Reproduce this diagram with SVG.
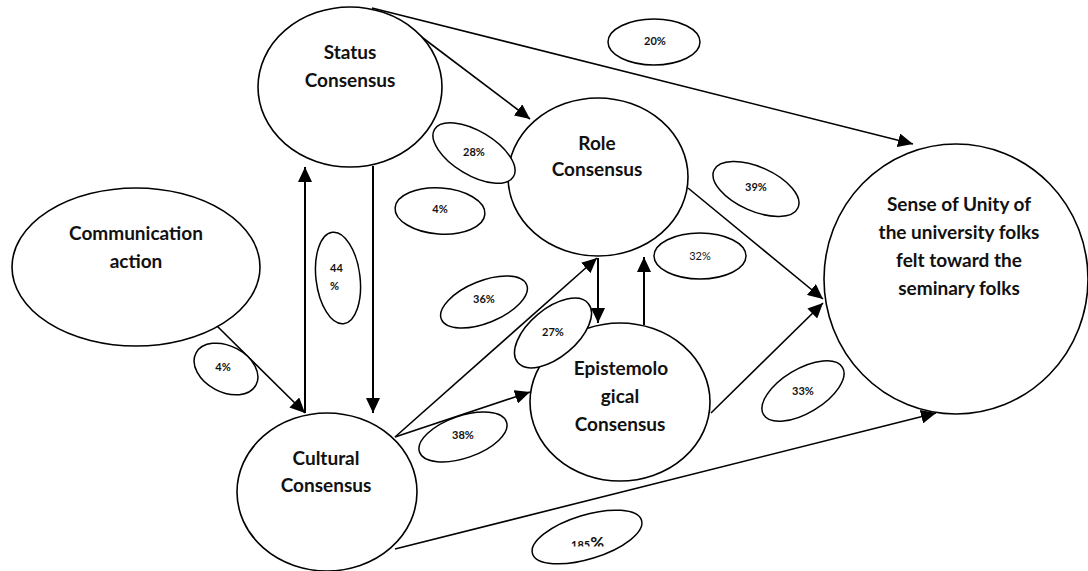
<svg xmlns="http://www.w3.org/2000/svg" width="1088" height="571" viewBox="0 0 1088 571">
<style>
.node{fill:#fff;stroke:#000;stroke-width:1.6}
.lab{fill:#fff;stroke:#000;stroke-width:1.5}
.t{font-family:Lato,"Liberation Sans",sans-serif;font-weight:bold;font-size:19px;fill:#111;text-anchor:middle}
.p{font-family:Lato,"Liberation Sans",sans-serif;font-weight:bold;font-size:11px;fill:#111;text-anchor:middle}
.c{stroke:#000;stroke-width:1.6;fill:none;marker-end:url(#ah)}
</style>
<defs>
<marker id="ah" markerUnits="userSpaceOnUse" markerWidth="16" markerHeight="14" refX="15" refY="7" orient="auto">
<path d="M0,0 L15,7 L0,14 Z" fill="#000"/>
</marker>
<clipPath id="clip185"><rect x="540" y="520" width="100" height="26.5"/></clipPath>
</defs>
<g id="connectors">
<line class="c" x1="372" y1="8" x2="913" y2="144"/>
<line class="c" x1="415" y1="32" x2="530" y2="119"/>
<line class="c" x1="305" y1="413" x2="305" y2="167" style="stroke-width:2"/>
<line class="c" x1="373" y1="166" x2="373" y2="413" style="stroke-width:2"/>
<line class="c" x1="215" y1="324" x2="305" y2="413"/>
<line class="c" x1="395" y1="437" x2="597" y2="258"/>
<line class="c" x1="395" y1="437" x2="530" y2="392"/>
<line class="c" x1="598" y1="258" x2="598" y2="323" style="stroke-width:2"/>
<line class="c" x1="644" y1="325" x2="644" y2="257" style="stroke-width:2"/>
<line class="c" x1="688" y1="188" x2="823" y2="299"/>
<line class="c" x1="711" y1="413" x2="823" y2="303"/>
<line class="c" x1="395" y1="549" x2="936" y2="413"/>
</g>
<g id="status">
<ellipse class="node" cx="350" cy="87" rx="92" ry="80"/>
<text class="t" x="350" y="59">Status</text>
<text class="t" x="350" y="87">Consensus</text>
</g>
<g id="role">
<ellipse class="node" cx="598" cy="177" rx="90" ry="79"/>
<text class="t" x="597" y="150">Role</text>
<text class="t" x="597" y="176">Consensus</text>
</g>
<g id="communication">
<ellipse class="node" cx="136" cy="267" rx="124" ry="79"/>
<text class="t" x="136" y="240">Communication</text>
<text class="t" x="136" y="268">action</text>
</g>
<g id="cultural">
<ellipse class="node" cx="327" cy="492" rx="90" ry="79"/>
<text class="t" x="326" y="465">Cultural</text>
<text class="t" x="326" y="492">Consensus</text>
</g>
<g id="epistemological">
<ellipse class="node" cx="620" cy="402" rx="90" ry="79"/>
<text class="t" x="621" y="375">Epistemolo</text>
<text class="t" x="620" y="403">gical</text>
<text class="t" x="620" y="431">Consensus</text>
</g>
<g id="unity">
<ellipse class="node" cx="956" cy="279" rx="132" ry="135"/>
<text class="t" x="959" y="211">Sense of Unity of</text>
<text class="t" x="959" y="239">the university folks</text>
<text class="t" x="959" y="267">felt toward the</text>
<text class="t" x="959" y="295">seminary folks</text>
</g>
<g id="l20"><ellipse class="lab" cx="654" cy="42" rx="46" ry="23"/><text class="p" x="655" y="45">20%</text></g>
<g id="l28"><ellipse class="lab" cx="474" cy="153" rx="46" ry="22" transform="rotate(31 474 153)"/><text class="p" x="474" y="156">28%</text></g>
<g id="l4a"><ellipse class="lab" cx="440" cy="211" rx="45" ry="23" transform="rotate(4 440 211)"/><text class="p" x="440" y="213">4%</text></g>
<g id="l36"><ellipse class="lab" cx="484" cy="302" rx="46" ry="21" transform="rotate(-22 484 302)"/><text class="p" x="484" y="303">36%</text></g>
<g id="l27"><ellipse class="lab" cx="553" cy="333" rx="46" ry="24" transform="rotate(-40 553 333)"/><text class="p" x="553" y="336">27%</text></g>
<g id="l32"><ellipse class="lab" cx="700" cy="256" rx="46" ry="23"/><text class="p" x="700" y="260" style="font-weight:normal">32%</text></g>
<g id="l39"><ellipse class="lab" cx="756" cy="189" rx="46" ry="22" transform="rotate(24 756 189)"/><text class="p" x="756" y="191">39%</text></g>
<g id="l33"><ellipse class="lab" cx="803" cy="391" rx="46" ry="22" transform="rotate(-31 803 391)"/><text class="p" x="803" y="395">33%</text></g>
<g id="l38"><ellipse class="lab" cx="463" cy="437" rx="46" ry="21" transform="rotate(-19 463 437)"/><text class="p" x="463" y="439">38%</text></g>
<g id="l44"><ellipse class="lab" cx="338" cy="278" rx="22" ry="46" transform="rotate(-7 338 278)"/><text class="p" x="330" y="272" style="text-anchor:start">44</text><text class="p" x="330" y="290" style="text-anchor:start">%</text></g>
<g id="l4b"><ellipse class="lab" cx="226" cy="369" rx="34" ry="23" transform="rotate(28 226 369)"/><text class="p" x="223" y="371">4%</text></g>
<g id="l185"><ellipse class="lab" cx="587" cy="537" rx="57" ry="22" transform="rotate(-17 587 537)"/><text class="p" x="571" y="549" clip-path="url(#clip185)" style="text-anchor:start">185<tspan style="font-size:17px">%</tspan></text></g>
</svg>
